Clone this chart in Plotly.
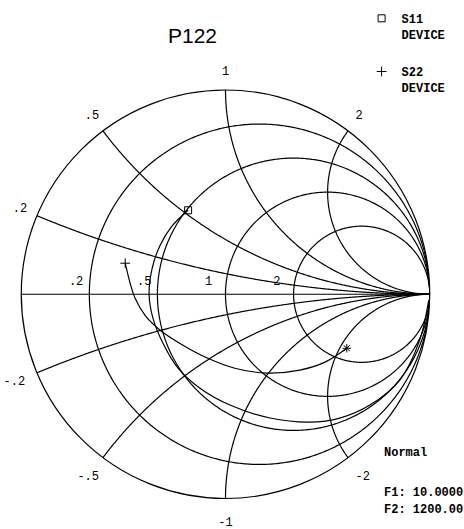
import numpy as np
import plotly.graph_objects as go

# S-parameters (magnitude, angle in degrees), 10 -> 1200 MHz
s11_mag = [0.995, 0.977, 0.951, 0.891, 0.825, 0.750, 0.644, 0.543, 0.477,
           0.430, 0.389, 0.374, 0.374, 0.381, 0.400, 0.424, 0.450]
s11_ang = [-1.7, -13.3, -26.3, -37.5, -47.3, -56.6, -70.2, -87.7, -105.2,
           -122.7, -141.9, -161.8, 180.0, 160.5, 143.1, 128.2, 114.0]

s22_mag = [0.650, 0.590, 0.520, 0.436, 0.365, 0.325, 0.325, 0.365, 0.407,
           0.443, 0.470, 0.514]
s22_ang = [-24.0, -34.3, -45.6, -62.3, -82.8, -105.4, -129.9, -151.2, -165.3,
           -177.4, 173.4, 162.8]

r_ticks = [0.2, 0.5, 1, 2]
x_ticks = [0.2, 0.5, 1, 2, -0.2, -0.5, -1, -2]

W, H = 464, 529


def px(x):
    return x / W


def py(y):
    return 1 - y / H


def to_z(g):
    z = (1 + g) / (1 - g)
    return z.real, z.imag


def polar_to_z(mag, ang):
    return to_z(np.array(mag) * np.exp(1j * np.deg2rad(ang)))


def short(v):
    return f"{v:g}".replace("0.", ".")


mono = dict(family="Liberation Mono", size=12, color="black")
bold = dict(mono, weight='bold')
grid_line = dict(color='black', width=1.2)
z11r, z11i = polar_to_z(s11_mag, s11_ang)
z22r, z22i = polar_to_z(s22_mag, s22_ang)

fig = go.Figure()

# constant resistance circles and constant reactance arcs
for r in r_ticks:
    t = np.linspace(-np.pi / 2 + 1e-3, np.pi / 2 - 1e-3, 600)
    fig.add_trace(go.Scattersmith(real=np.full(t.size, r), imag=(r + 1) * np.tan(t), mode='lines',
                                  line=grid_line, showlegend=False, hoverinfo='skip'))
for x in x_ticks:
    t = np.linspace(1e-3, np.arctan(abs(x)), 400)
    fig.add_trace(go.Scattersmith(real=np.maximum(abs(x) / np.tan(t) - 1, 0), imag=np.full(t.size, x),
                                  mode='lines', line=grid_line, showlegend=False, hoverinfo='skip'))

fig.add_trace(go.Scattersmith(real=z11r, imag=z11i, mode='lines', line=dict(color='black', width=1.2, shape='spline'),
                              showlegend=False, hoverinfo='skip'))
fig.add_trace(go.Scattersmith(real=z22r, imag=z22i, mode='lines', line=dict(color='black', width=1.2, shape='spline'),
                              showlegend=False, hoverinfo='skip'))
fig.add_trace(go.Scattersmith(real=[z11r[-1]], imag=[z11i[-1]], mode='markers', name='S11<br>DEVICE',
                              marker=dict(symbol='square-open', size=7, color='black', line=dict(width=1)),
                              legendgroup='a'))
fig.add_trace(go.Scattersmith(real=[z22r[-1]], imag=[z22i[-1]], mode='markers', name='S22<br>DEVICE',
                              marker=dict(symbol='cross-thin-open', size=7, color='black', line=dict(width=1, color='black')),
                              legendgroup='b'))
fig.add_trace(go.Scattersmith(real=[z22r[0]], imag=[z22i[0]], mode='markers', showlegend=False,
                              marker=dict(symbol='asterisk-open', size=7, color='black', line=dict(width=1, color='black')),
                              hoverinfo='skip'))

# grid labels: resistance just above the real axis, reactance just outside the rim
g_r = (np.array(r_ticks) - 1) / (np.array(r_ticks) + 1) - 0.1 + 0.06j
lr, li = to_z(g_r)
fig.add_trace(go.Scattersmith(real=lr, imag=li, mode='text',
                              text=[short(v) for v in r_ticks], textposition='middle right',
                              textfont=mono, showlegend=False, hoverinfo='skip'))
xt = np.array(x_ticks)
g_x = np.where(xt > 0, 1.09, 1.12) * (1j * xt - 1) / (1j * xt + 1)
lr, li = to_z(g_x)
fig.add_trace(go.Scattersmith(real=lr, imag=li, mode='text', cliponaxis=False,
                              text=[short(v) for v in x_ticks], textposition='middle center',
                              textfont=mono, showlegend=False, hoverinfo='skip'))

axis_style = dict(showgrid=False, linecolor='black', linewidth=1.2, showticklabels=False, ticks='')
fig.update_layout(
    width=W, height=H,
    margin=dict(l=0, r=0, t=0, b=0),
    paper_bgcolor='white',
    smith=dict(
        domain=dict(x=[px(21), px(430)], y=[py(498.5), py(90)]),
        bgcolor='white',
        realaxis=dict(tickvals=r_ticks, **axis_style),
        imaginaryaxis=dict(tickvals=[0.2, 0.5, 1, 2], **axis_style),
    ),
    legend=dict(x=px(361.6), y=py(4), xanchor='left', yanchor='top', font=dict(bold),
                tracegroupgap=19, itemwidth=30, bgcolor='rgba(0,0,0,0)', valign='top'),
    annotations=[
        dict(text='P122', x=px(192), y=py(36), xref='paper', yref='paper', showarrow=False,
             xanchor='center', yanchor='middle', font=dict(family='Liberation Sans', size=21, color='black')),
        dict(text='Normal', x=px(382), y=py(453), xref='paper', yref='paper', showarrow=False,
             xanchor='left', yanchor='middle', font=bold),
        dict(text='F1: 10.0000', x=px(382), y=py(493), xref='paper', yref='paper', showarrow=False,
             xanchor='left', yanchor='middle', font=bold),
        dict(text='F2: 1200.00', x=px(382), y=py(510), xref='paper', yref='paper', showarrow=False,
             xanchor='left', yanchor='middle', font=bold),
    ],
)

fig.write_html("out.html", config={'displayModeBar': False},
               post_script="document.body.style.margin = '0';")
